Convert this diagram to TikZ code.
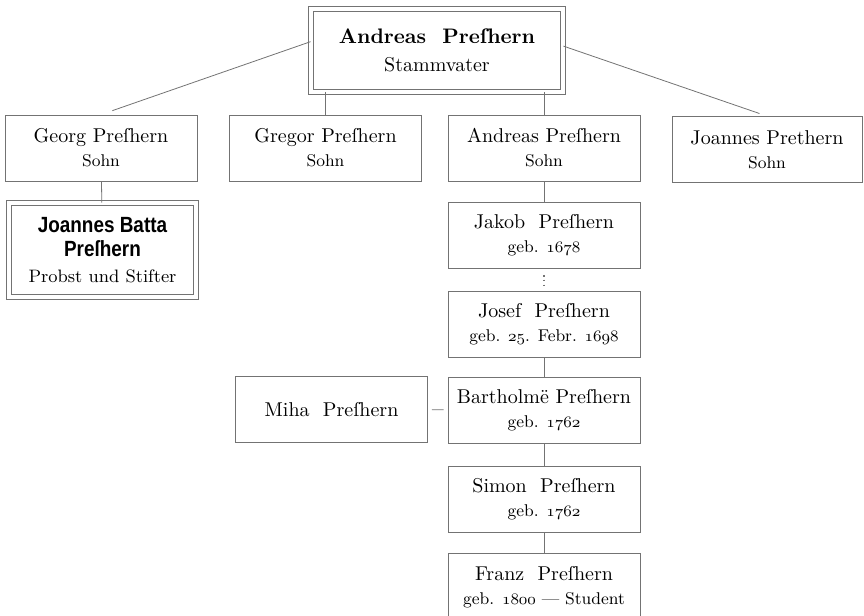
\documentclass[tikz,border=0pt]{standalone}
\usepackage{fontspec}
\newfontfamily\grotesk[FakeStretch=0.86]{Liberation Sans}
\newcommand\osn[1]{{\usefont{OML}{cmm}{m}{it}#1}}
\newcommand\unter[1]{{\fontsize{8.5}{10}\selectfont #1}}
\newcommand\fett[1]{{\grotesk\bfseries\fontsize{11}{12.5}\selectfont #1}}

\begin{document}
\begin{tikzpicture}[
		x=0.5pt, y=-0.5pt,
		every node/.style={rectangle, draw=black!55, line width=0.4pt, align=center, inner sep=0pt,
			minimum width=96pt, minimum height=33pt, font=\fontsize{10}{12}\selectfont},
		doppel/.style={double=white, double distance=2.4pt},
		link/.style={draw=black!55, line width=0.4pt}
	]
  \useasboundingbox (0,0) rectangle (864,616);
  \node (stamm) [doppel, minimum width=126pt, minimum height=41.5pt] at (437, 50.5)
    {{\bfseries\fontsize{10.5}{13}\selectfont Andreas\ \ Preſhern}\\[2pt]Stammvater};
  \node (georg) at (101, 148) {Georg Preſhern\\\unter{Sohn}};
  \node (gregor) at (325.5, 148) {Gregor Preſhern\\\unter{Sohn}};
  \node (andreas) at (544, 148) {Andreas Preſhern\\\unter{Sohn}};
  \node (joannes) [minimum width=95pt] at (767, 149.5) {Joannes Prethern\\\unter{Sohn}};
  \node (batta) [doppel, minimum width=93.5pt, minimum height=47pt] at (102.5, 250)
    {\fett{Joannes Batta}\\\fett{Preſhern}\\[1pt]{\fontsize{9}{11}\selectfont Probst und Stifter}};
  \node (jakob) at (544, 235.5) {Jakob\ \ Preſhern\\\unter{geb. \osn{1678}}};
  \node (josef) at (544, 324) {Josef\ \ Preſhern\\\unter{geb. \osn{25}. Febr. \osn{1698}}};
  \node (miha) at (331.5, 409.5) {Miha\ \ Preſhern};
  \node (barth) at (544, 410) {Bartholmë Preſhern\\\unter{geb. \osn{1762}}};
  \node (simon) at (544, 499) {Simon\ \ Preſhern\\\unter{geb. \osn{1762}}};
  \node (franz) [minimum height=34pt] at (544, 587) {Franz\ \ Preſhern\\\unter{geb. \osn{1800} --- Student}};
  \draw[link, shorten >=6pt] (stamm.176) -- (georg.north);
  \draw[link, shorten >=4pt] (stamm.2) -- (joannes.north);
  \draw[link] (gregor.north |- stamm.south) -- (gregor.north);
  \draw[link] (andreas.north |- stamm.south) -- (andreas.north);
  \draw[link] (georg) -- (batta);
  \draw[link] (andreas) -- (jakob);
  \draw[link, line width=0.6pt, dash pattern=on 0.8pt off 1.6pt, shorten <=3pt, shorten >=2pt] (jakob) -- (josef);
  \draw[link] (josef) -- (barth);
  \draw[link, shorten <=2pt, shorten >=2pt] (miha) -- (barth);
  \draw[link] (barth) -- (simon);
  \draw[link] (simon) -- (franz);
\end{tikzpicture}
\end{document}
